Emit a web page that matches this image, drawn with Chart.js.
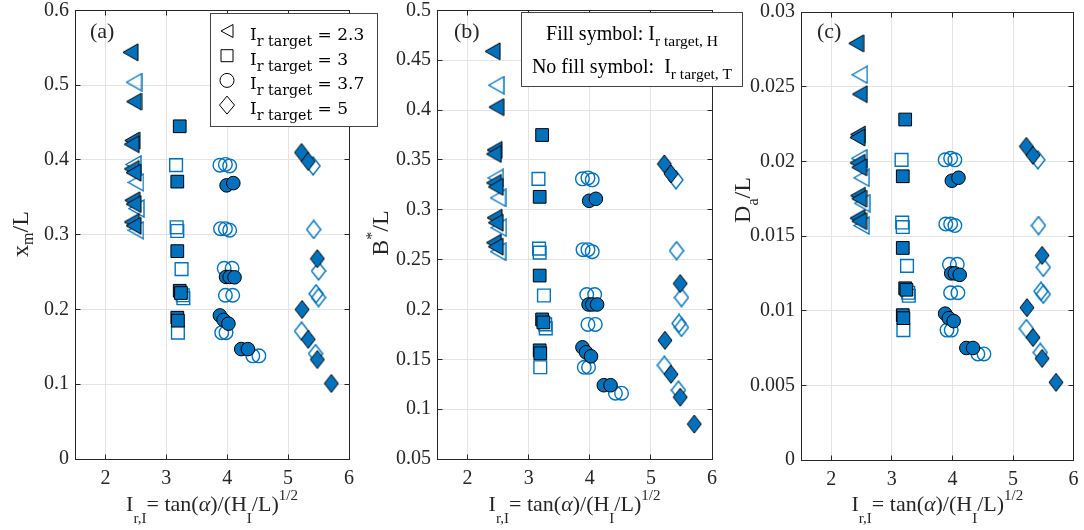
<!DOCTYPE html>
<html>
<head>
<meta charset="utf-8">
<script src="https://cdn.jsdelivr.net/npm/chart.js@4.4.1/dist/chart.umd.min.js"></script>
<style>
  html, body { margin: 0; padding: 0; background: #fff; }
  #wrap { position: relative; width: 1084px; height: 530px; overflow: hidden; background: #fff; }
  canvas { position: absolute; top: 0; }
</style>
</head>
<body>
<div id="wrap">
  <canvas id="panelA" width="400" height="530" style="left:0px"></canvas>
  <canvas id="panelB" width="390" height="530" style="left:360px"></canvas>
  <canvas id="panelC" width="359" height="530" style="left:725px"></canvas>
</div>
<script>
// ticks
const X_TICKS = [2, 3, 4, 5, 6];
const X_TICK_LABELS = ['2', '3', '4', '5', '6'];
const YA_TICKS = [0, 0.1, 0.2, 0.3, 0.4, 0.5, 0.6];
const YA_TICK_LABELS = ['0', '0.1', '0.2', '0.3', '0.4', '0.5', '0.6'];
const YB_TICKS = [0.05, 0.1, 0.15, 0.2, 0.25, 0.3, 0.35, 0.4, 0.45, 0.5];
const YB_TICK_LABELS = ['0.05', '0.1', '0.15', '0.2', '0.25', '0.3', '0.35', '0.4', '0.45', '0.5'];
const YC_TICKS = [0, 0.005, 0.01, 0.015, 0.02, 0.025, 0.03];
const YC_TICK_LABELS = ['0', '0.005', '0.01', '0.015', '0.02', '0.025', '0.03'];

const LEGEND_LABELS = ['2.3', '3', '3.7', '5'];

// I_r target = 2.3 (triangles)
const triFillX  = [2.41, 2.47, 2.44, 2.43, 2.43, 2.46, 2.44, 2.46, 2.43, 2.46];
const triFillXm = [0.544, 0.478, 0.426, 0.421, 0.388, 0.383, 0.346, 0.341, 0.317, 0.312];
const triFillB  = [0.459, 0.403, 0.360, 0.356, 0.327, 0.323, 0.292, 0.287, 0.267, 0.263];
const triFillDa = [0.0279, 0.0245, 0.0218, 0.0216, 0.0199, 0.0196, 0.0177, 0.0175, 0.0162, 0.0160];
const triOpenX  = [2.47, 2.46, 2.50, 2.51, 2.50];
const triOpenXm = [0.504, 0.394, 0.370, 0.335, 0.306];
const triOpenB  = [0.425, 0.332, 0.312, 0.282, 0.258];
const triOpenDa = [0.0258, 0.0202, 0.0189, 0.0172, 0.0157];

// I_r target = 3 (squares)
const sqFillX  = [3.22, 3.18, 3.18, 3.22, 3.24, 3.18, 3.19];
const sqFillXm = [0.445, 0.371, 0.278, 0.225, 0.222, 0.189, 0.185];
const sqFillB  = [0.375, 0.313, 0.234, 0.190, 0.187, 0.159, 0.156];
const sqFillDa = [0.0228, 0.0190, 0.0142, 0.0115, 0.0114, 0.0097, 0.0095];
const sqOpenX  = [3.16, 3.17, 3.18, 3.25, 3.27, 3.28, 3.19];
const sqOpenXm = [0.393, 0.310, 0.305, 0.254, 0.219, 0.215, 0.169];
const sqOpenB  = [0.331, 0.261, 0.257, 0.214, 0.185, 0.181, 0.142];
const sqOpenDa = [0.0201, 0.0159, 0.0156, 0.0130, 0.0112, 0.0110, 0.0087];

// I_r target = 3.7 (circles)
const cirFillX  = [3.99, 4.10, 3.98, 4.04, 4.12, 3.88, 3.94, 4.02, 4.23, 4.34];
const cirFillXm = [0.366, 0.369, 0.2435, 0.2435, 0.243, 0.192, 0.186, 0.181, 0.147, 0.147];
const cirFillB  = [0.309, 0.311, 0.205, 0.205, 0.205, 0.162, 0.157, 0.153, 0.124, 0.124];
const cirFillDa = [0.0187, 0.0189, 0.0125, 0.0125, 0.0124, 0.0098, 0.0095, 0.0093, 0.0075, 0.0075];
const cirOpenX  = [3.88, 3.97, 4.04, 3.89, 3.97, 4.04, 3.95, 4.08, 3.97, 4.09, 3.91, 3.98, 4.42, 4.52];
const cirOpenXm = [0.393, 0.394, 0.392, 0.308, 0.308, 0.306, 0.255, 0.255, 0.219, 0.219, 0.169, 0.169, 0.138, 0.138];
const cirOpenB  = [0.331, 0.332, 0.330, 0.260, 0.260, 0.258, 0.215, 0.215, 0.185, 0.185, 0.142, 0.142, 0.116, 0.116];
const cirOpenDa = [0.0201, 0.0202, 0.0201, 0.0158, 0.0158, 0.0157, 0.0131, 0.0131, 0.0112, 0.0112, 0.0087, 0.0087, 0.0071, 0.0071];

// I_r target = 5 (diamonds)
const diaFillX  = [5.22, 5.33, 5.48, 5.23, 5.33, 5.48, 5.71];
const diaFillXm = [0.410, 0.398, 0.268, 0.200, 0.160, 0.133, 0.101];
const diaFillB  = [0.346, 0.336, 0.226, 0.169, 0.135, 0.112, 0.085];
const diaFillDa = [0.0210, 0.0204, 0.0137, 0.0102, 0.0082, 0.0068, 0.0052];
const diaOpenX  = [5.41, 5.42, 5.50, 5.46, 5.50, 5.22, 5.45];
const diaOpenXm = [0.392, 0.307, 0.2515, 0.221, 0.216, 0.171, 0.141];
const diaOpenB  = [0.330, 0.259, 0.212, 0.186, 0.182, 0.144, 0.119];
const diaOpenDa = [0.0201, 0.0157, 0.0129, 0.0113, 0.0111, 0.0088, 0.0072];

const BLUE = '#0072BD';
const AXIS_COLOR = '#262626';
const GRID_COLOR = '#e3e3e3';
const SERIF = '"Liberation Serif", "Times New Roman", serif';
const LEG_FONT = '"DejaVu Serif", serif';
const TICK = 5;

// marker images for triangles ('<') and diamonds, so they sit centred like matlab's
function markerCanvas(shape, fill, stroke, lw) {
    const c = document.createElement('canvas');
    const ctx = c.getContext('2d');
    let pts;
    if (shape === 'tri') {
        c.width = 17; c.height = 19;
        pts = [[1, 9.5], [16, 1], [16, 18]];
    } else {
        c.width = 16; c.height = 20;
        pts = [[8, 1], [15, 10], [8, 19], [1, 10]];
    }
    ctx.beginPath();
    pts.forEach((p, i) => i ? ctx.lineTo(p[0], p[1]) : ctx.moveTo(p[0], p[1]));
    ctx.closePath();
    if (fill) { ctx.fillStyle = fill; ctx.fill(); }
    ctx.lineWidth = lw;
    ctx.strokeStyle = stroke;
    ctx.lineJoin = 'miter';
    ctx.stroke();
    return c;
}
const triFillImg = markerCanvas('tri', BLUE, '#000', 1);
const triOpenImg = markerCanvas('tri', null, BLUE, 1.4);
const diaFillImg = markerCanvas('dia', BLUE, '#000', 1);
const diaOpenImg = markerCanvas('dia', null, BLUE, 1.4);

function pts(xs, ys) {
    return xs.map((x, i) => ({ x: x, y: ys[i] }));
}

function markerStyle(shape, filled) {
    const s = {
        pointBackgroundColor: filled ? BLUE : 'rgba(0,0,0,0)',
        pointBorderColor: filled ? '#000' : BLUE,
        pointBorderWidth: filled ? 1 : 1.4,
        pointHoverRadius: 0,
        showLine: false
    };
    if (shape === 'tri') { s.pointStyle = filled ? triFillImg : triOpenImg; s.pointRadius = 9; }
    if (shape === 'dia') { s.pointStyle = filled ? diaFillImg : diaOpenImg; s.pointRadius = 9; }
    if (shape === 'sq') { s.pointStyle = 'rect'; s.pointRadius = 9; }
    if (shape === 'cir') { s.pointStyle = 'circle'; s.pointRadius = 6.8; }
    return s;
}

// draw a run of text pieces (sub/superscripts shifted by dy)
function drawRich(ctx, parts, x, y, align, family) {
    const fontOf = p => (p.it ? 'italic ' : '') + p.s + 'px ' + family;
    let w = 0;
    parts.forEach(p => { ctx.font = fontOf(p); w += ctx.measureText(p.t).width; });
    let cx = align === 'center' ? x - w / 2 : x;
    parts.forEach(p => {
        ctx.font = fontOf(p);
        ctx.fillText(p.t, cx, y + (p.dy || 0));
        cx += ctx.measureText(p.t).width;
    });
}

const X_TITLE = [
    { t: 'I', s: 22 }, { t: 'r,I', s: 15, dy: 12 }, { t: '= tan(', s: 22 },
    { t: 'α', s: 22, it: true }, { t: ')/(H', s: 22 }, { t: 'I', s: 15, dy: 12 },
    { t: '/L)', s: 22 }, { t: '1/2', s: 15, dy: -11 }
];

function legendSymbol(ctx, k, cx, cy) {
    ctx.beginPath();
    if (k === 0) {
        ctx.moveTo(cx - 6, cy); ctx.lineTo(cx + 6, cy - 6.5); ctx.lineTo(cx + 6, cy + 6.5); ctx.closePath();
    } else if (k === 1) {
        ctx.rect(cx - 6, cy - 6, 12, 12);
    } else if (k === 2) {
        ctx.arc(cx, cy, 7, 0, 2 * Math.PI);
    } else {
        ctx.moveTo(cx, cy - 9); ctx.lineTo(cx + 7.5, cy); ctx.lineTo(cx, cy + 9); ctx.lineTo(cx - 7.5, cy); ctx.closePath();
    }
    ctx.stroke();
}

function decor(panel) {
    return {
        id: 'decor',
        afterDraw(chart) {
            const ctx = chart.ctx;
            const a = chart.chartArea;
            const al = p => Math.round(p - 0.5) + 0.5;
            const L = al(a.left), R = al(a.right), T = al(a.top), B = al(a.bottom);
            const off = panel.canvasLeft;
            ctx.save();
            ctx.strokeStyle = AXIS_COLOR;
            ctx.lineWidth = 1;
            ctx.strokeRect(L, T, R - L, B - T);

            // inward ticks on all four sides
            ctx.beginPath();
            X_TICKS.forEach(v => {
                const px = al(chart.scales.x.getPixelForValue(v));
                ctx.moveTo(px, B); ctx.lineTo(px, B - TICK);
                ctx.moveTo(px, T); ctx.lineTo(px, T + TICK);
            });
            panel.yTicks.forEach(v => {
                const py = al(chart.scales.y.getPixelForValue(v));
                ctx.moveTo(L, py); ctx.lineTo(L + TICK, py);
                ctx.moveTo(R, py); ctx.lineTo(R - TICK, py);
            });
            ctx.stroke();

            ctx.fillStyle = AXIS_COLOR;
            ctx.textBaseline = 'alphabetic';
            // x title
            drawRich(ctx, X_TITLE, (a.left + a.right) / 2, 511, 'center', SERIF);
            // y title, rotated
            ctx.save();
            ctx.translate(panel.yTitleX - off, panel.yTitleY);
            ctx.rotate(-Math.PI / 2);
            drawRich(ctx, panel.yTitle, 0, 0, 'center', SERIF);
            ctx.restore();
            // panel tag
            ctx.font = '22px ' + SERIF;
            ctx.fillText(panel.tag, panel.tagX - off, 38);

            if (panel.legend) {
                ctx.fillStyle = '#fff';
                ctx.fillRect(210.5, 13.5, 167, 113);
                ctx.strokeStyle = '#444';
                ctx.strokeRect(210.5, 13.5, 167, 113);
                ctx.strokeStyle = '#000';
                ctx.lineWidth = 1;
                ctx.fillStyle = '#000';
                LEGEND_LABELS.forEach((lab, k) => {
                    const base = 40 + k * 24.7;
                    legendSymbol(ctx, k, 227, base - 9);
                    drawRich(ctx, [{ t: 'I', s: 17 }, { t: 'r target', s: 14.2, dy: 6 }, { t: ' = ' + lab, s: 17 }],
                        250, base, 'left', LEG_FONT);
                });
            }
            if (panel.note) {
                const bx = 521.5 - off;
                ctx.fillStyle = '#fff';
                ctx.fillRect(bx, 12.5, 221, 74);
                ctx.strokeStyle = '#444';
                ctx.strokeRect(bx, 12.5, 221, 74);
                ctx.fillStyle = '#000';
                drawRich(ctx, [{ t: 'Fill symbol: I', s: 20 }, { t: 'r target, H', s: 15.5, dy: 6 }],
                    632 - off, 40, 'center', SERIF);
                drawRich(ctx, [{ t: 'No fill symbol:  I', s: 20 }, { t: 'r target, T', s: 15.5, dy: 6 }],
                    632 - off, 73, 'center', SERIF);
            }
            ctx.restore();
        }
    };
}

const Y_W = 60, X_H = 60, CANVAS_H = 530;

const panels = [
    {
        id: 'panelA', canvasLeft: 0, canvasW: 400, left: 75, right: 349, top: 10, bottom: 459,
        yMin: 0, yMax: 0.6, yTicks: YA_TICKS, yLabels: YA_TICK_LABELS,
        ys: { triF: triFillXm, triO: triOpenXm, sqF: sqFillXm, sqO: sqOpenXm, cirF: cirFillXm, cirO: cirOpenXm, diaF: diaFillXm, diaO: diaOpenXm },
        yTitle: [{ t: 'x', s: 24 }, { t: 'm', s: 16, dy: 5 }, { t: '/L', s: 24 }],
        yTitleX: 28, yTitleY: 234, tag: '(a)', tagX: 90, legend: true
    },
    {
        id: 'panelB', canvasLeft: 360, canvasW: 390, left: 437, right: 712, top: 10, bottom: 459,
        yMin: 0.05, yMax: 0.5, yTicks: YB_TICKS, yLabels: YB_TICK_LABELS,
        ys: { triF: triFillB, triO: triOpenB, sqF: sqFillB, sqO: sqOpenB, cirF: cirFillB, cirO: cirOpenB, diaF: diaFillB, diaO: diaOpenB },
        yTitle: [{ t: 'B', s: 24 }, { t: '*', s: 16, dy: -11 }, { t: '/L', s: 24 }],
        yTitleX: 388, yTitleY: 233, tag: '(b)', tagX: 454, note: true
    },
    {
        id: 'panelC', canvasLeft: 725, canvasW: 359, left: 801, right: 1075, top: 12, bottom: 460,
        yMin: 0, yMax: 0.03, yTicks: YC_TICKS, yLabels: YC_TICK_LABELS,
        ys: { triF: triFillDa, triO: triOpenDa, sqF: sqFillDa, sqO: sqOpenDa, cirF: cirFillDa, cirO: cirOpenDa, diaF: diaFillDa, diaO: diaOpenDa },
        yTitle: [{ t: 'D', s: 24 }, { t: 'a', s: 16, dy: 8 }, { t: '/L', s: 24 }],
        yTitleX: 750, yTitleY: 200, tag: '(c)', tagX: 817
    }
];

panels.forEach(panel => {
    const ys = panel.ys;
    // filled first so they end up drawn on top
    const datasets = [
        Object.assign({ label: 'tri H', data: pts(triFillX, ys.triF) }, markerStyle('tri', true)),
        Object.assign({ label: 'sq H', data: pts(sqFillX, ys.sqF) }, markerStyle('sq', true)),
        Object.assign({ label: 'cir H', data: pts(cirFillX, ys.cirF) }, markerStyle('cir', true)),
        Object.assign({ label: 'dia H', data: pts(diaFillX, ys.diaF) }, markerStyle('dia', true)),
        Object.assign({ label: 'tri T', data: pts(triOpenX, ys.triO) }, markerStyle('tri', false)),
        Object.assign({ label: 'sq T', data: pts(sqOpenX, ys.sqO) }, markerStyle('sq', false)),
        Object.assign({ label: 'cir T', data: pts(cirOpenX, ys.cirO) }, markerStyle('cir', false)),
        Object.assign({ label: 'dia T', data: pts(diaOpenX, ys.diaO) }, markerStyle('dia', false))
    ];

    new Chart(document.getElementById(panel.id).getContext('2d'), {
        type: 'scatter',
        data: { datasets: datasets },
        options: {
            responsive: false,
            animation: false,
            events: [],
            layout: {
                padding: {
                    left: panel.left - panel.canvasLeft - Y_W,
                    right: panel.canvasW - (panel.right - panel.canvasLeft),
                    top: panel.top,
                    bottom: CANVAS_H - panel.bottom - X_H
                }
            },
            plugins: { legend: { display: false }, tooltip: { enabled: false } },
            scales: {
                x: {
                    type: 'linear', min: 1.5, max: 6,
                    afterBuildTicks: s => { s.ticks = X_TICKS.map(v => ({ value: v })); },
                    afterFit: s => { s.height = X_H; s.paddingLeft = 0; s.paddingRight = 0; },
                    grid: { color: GRID_COLOR, drawTicks: false },
                    border: { display: false },
                    ticks: {
                        padding: 8, color: AXIS_COLOR, maxRotation: 0,
                        font: { family: SERIF, size: 20 },
                        callback: (v) => X_TICK_LABELS[X_TICKS.indexOf(v)]
                    }
                },
                y: {
                    type: 'linear', min: panel.yMin, max: panel.yMax,
                    afterBuildTicks: s => { s.ticks = panel.yTicks.map(v => ({ value: v })); },
                    afterFit: s => { s.width = Y_W; s.paddingTop = 0; s.paddingBottom = 0; },
                    grid: { color: GRID_COLOR, drawTicks: false },
                    border: { display: false },
                    ticks: {
                        padding: 6, color: AXIS_COLOR,
                        font: { family: SERIF, size: 20 },
                        callback: (v) => panel.yLabels[panel.yTicks.indexOf(v)]
                    }
                }
            }
        },
        plugins: [decor(panel)]
    });
});
</script>
</body>
</html>
